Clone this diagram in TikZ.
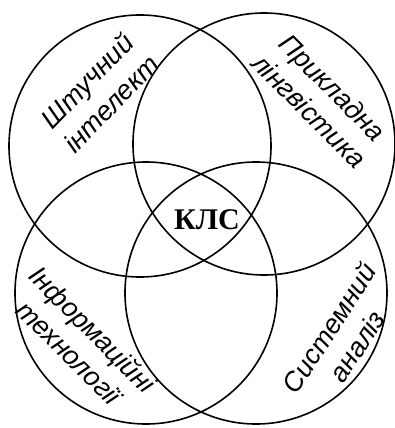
\documentclass[tikz,border=0pt]{standalone}
\usepackage{fontspec}
\setmainfont{Liberation Serif}
\newfontfamily\areafont{Liberation Sans}
\usepackage{tikz}

\begin{document}
\begin{tikzpicture}[x=1pt,y=-1pt,
  venn/.style={draw,line width=1.6pt,circle,minimum size=262pt,inner sep=0pt},
  area/.style={font=\areafont\itshape\fontsize{27}{33}\selectfont,align=center,inner sep=0pt}]
  \useasboundingbox (0,0) rectangle (395,428);
  % four overlapping fields
  \node[venn] (ai) at (140,146) {};
  \node[venn] (pl) at (264,144) {};
  \node[venn] (it) at (146,293) {};
  \node[venn] (sa) at (256,293) {};
  % field names
  \node[area,rotate=46] (ailabel) at (99,92) {Штучний\\інтелект};
  \node[area,rotate=-45] (pllabel) at (321,99) {Прикладна\\лінгвістика};
  \node[area,rotate=-45] (itlabel) at (81,341) {Інформаційні\\технології};
  \node[area,rotate=57] (salabel) at (343,337) {Системний\\аналіз};
  % common core
  \node[font=\bfseries\fontsize{30}{36}\selectfont,inner sep=0pt] (kls) at (207,220) {КЛС};
\end{tikzpicture}
\end{document}
